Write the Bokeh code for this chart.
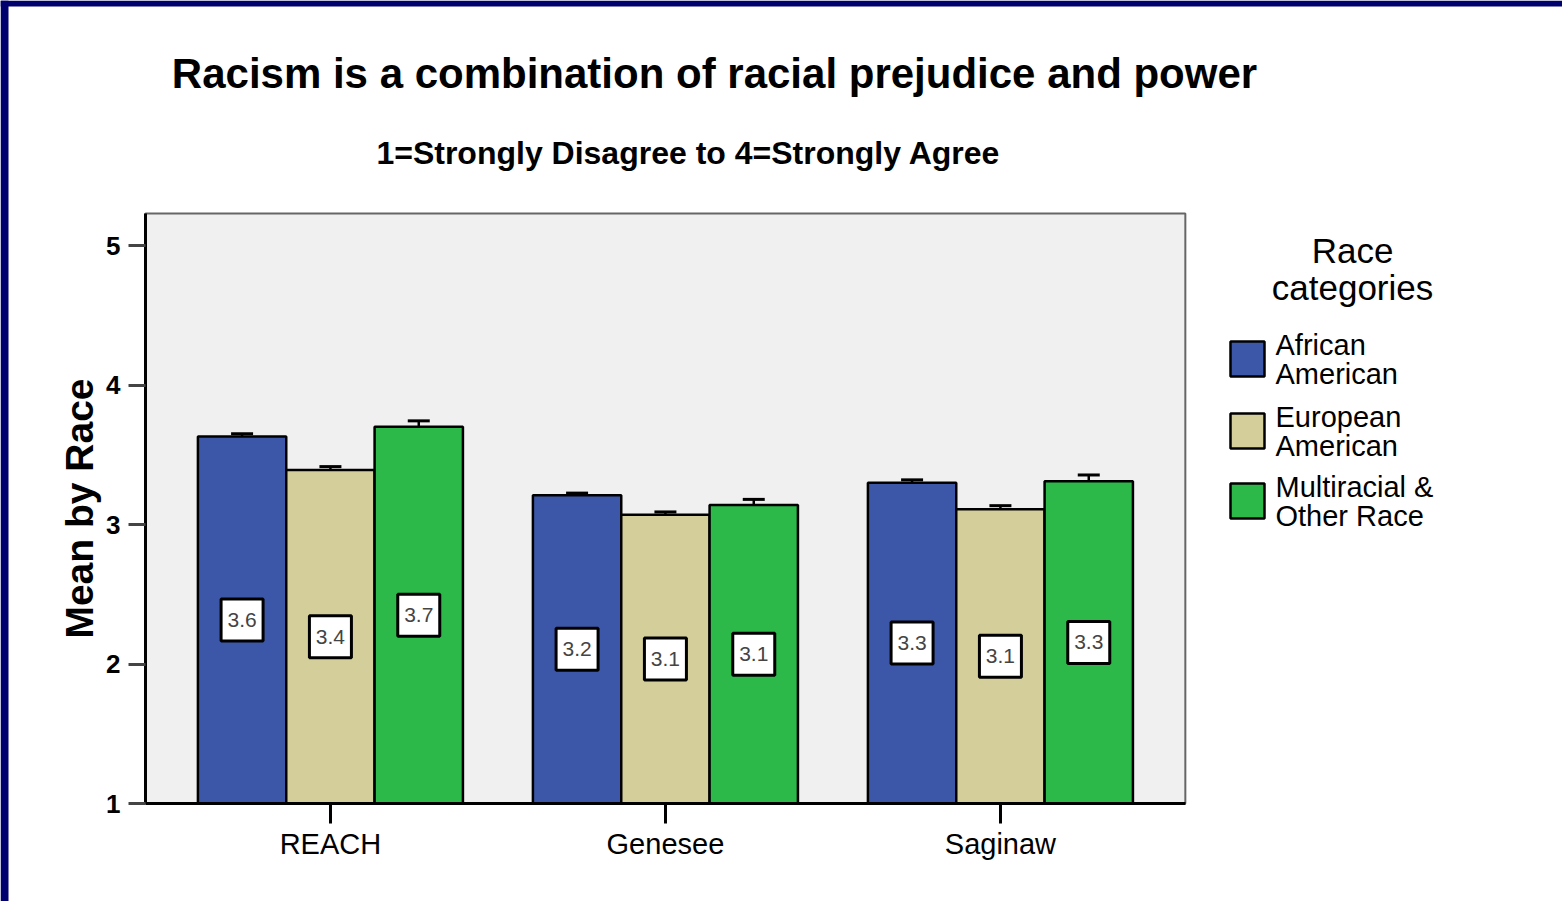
import math
from bokeh.plotting import figure
from bokeh.models import Range1d, FixedTicker, ColumnDataSource, Whisker, TeeHead, Label, BoxAnnotation
from bokeh.core.properties import value
from bokeh.embed import file_html
from bokeh.resources import INLINE

# ---- data ----
sites = ["REACH", "Genesee", "Saginaw"]
race_lines = [["African", "American"], ["European", "American"], ["Multiracial &", "Other Race"]]
means_aa = [3.63, 3.21, 3.30]
means_ea = [3.39, 3.07, 3.11]
means_mo = [3.70, 3.14, 3.31]
err_aa = [0.02, 0.015, 0.02]
err_ea = [0.025, 0.02, 0.025]
err_mo = [0.043, 0.04, 0.045]
y_ticks = [1, 2, 3, 4, 5]

colors = ["#3d57a8", "#d4cf9a", "#2db84a"]
NAVY = "#00006e"
FONT = "Liberation Sans"

# page geometry (whole canvas is the frame; axes drawn at fixed locations)
W, H = 1562, 901
AX_X, AX_Y = 145, 803      # page position of the y axis / x axis
PX_X, PX_Y = 335.0, 139.5  # pixels per data unit
x0, x_data_end = -0.552, 2.552
y_data_top = 1 + 590 / PX_Y

x_start = x0 - AX_X / PX_X
x_end = x0 + (W - AX_X) / PX_X
y_start = 1 - (H - AX_Y) / PX_Y
y_end = 1 + AX_Y / PX_Y

p = figure(width=W, height=H, title=None,
           x_range=Range1d(x_start, x_end), y_range=Range1d(y_start, y_end),
           output_backend="svg", toolbar_location=None, min_border=0,
           background_fill_color="white", border_fill_color="white",
           outline_line_color=None)
p.grid.visible = False

# plot area background
p.add_layout(BoxAnnotation(left=x0, right=x_data_end, bottom=1, top=y_data_top, level="underlay",
                           fill_color="#f0f0f0", fill_alpha=1.0,
                           line_color="#666666", line_width=2, line_alpha=1.0))

bw = 0.2637
series = [means_aa, means_ea, means_mo]
errs = [err_aa, err_ea, err_mo]
for j, (vals, ers) in enumerate(zip(series, errs)):
    xs = [i + (j - 1) * bw for i in range(len(sites))]
    src = ColumnDataSource(dict(x=xs, top=vals,
                                upper=[v + e for v, e in zip(vals, ers)],
                                lower=[v - e for v, e in zip(vals, ers)],
                                mid=[(1 + v) / 2 for v in vals],
                                lab=[f"{v:.1f}" for v in vals]))
    p.vbar(x="x", top="top", bottom=1, width=bw, source=src,
           fill_color=colors[j], line_color="black", line_width=2.5)
    w = Whisker(source=src, base="x", upper="upper", lower="lower", dimension="height",
                line_color="black", line_width=2.5,
                upper_head=TeeHead(size=22, line_width=3, line_color="black"),
                lower_head=TeeHead(size=22, line_width=3, line_color="black"))
    p.add_layout(w)
    p.rect(x="x", y="mid", width=42, height=42, width_units="screen", height_units="screen",
           source=src, fill_color="white", line_color="black", line_width=3)
    p.text(x="x", y="mid", text="lab", source=src, text_align="center", text_baseline="middle",
           text_font=value(FONT), text_font_size="21px", text_color="#444444")

# axes
p.xaxis.fixed_location = 1
p.xaxis.bounds = (x0, x_data_end)
p.xaxis.ticker = FixedTicker(ticks=list(range(len(sites))))
p.xaxis.major_label_overrides = {i: s for i, s in enumerate(sites)}
p.xaxis.major_label_text_font = FONT
p.xaxis.major_label_text_font_size = "29px"
p.xaxis.major_label_text_color = "black"
p.xaxis.major_label_standoff = 4
p.xaxis.major_tick_out = 20
p.xaxis.major_tick_in = 0
p.xaxis.major_tick_line_width = 3
p.xaxis.major_tick_line_color = "black"
p.xaxis.minor_tick_line_color = None
p.xaxis.axis_line_width = 3
p.xaxis.axis_line_color = "black"

p.yaxis.fixed_location = x0
p.yaxis.bounds = (1, y_data_top)
p.yaxis.ticker = FixedTicker(ticks=y_ticks)
p.yaxis.major_label_text_font = FONT
p.yaxis.major_label_text_font_style = "bold"
p.yaxis.major_label_text_font_size = "26px"
p.yaxis.major_label_text_color = "black"
p.yaxis.major_label_standoff = 8
p.yaxis.major_tick_out = 17
p.yaxis.major_tick_in = 0
p.yaxis.major_tick_line_width = 3
p.yaxis.major_tick_line_color = "#444444"
p.yaxis.minor_tick_line_color = None
p.yaxis.axis_line_width = 3
p.yaxis.axis_line_color = "black"


def lab(text, X, Ybase, size, bold=False, align="left", angle=0.0, baseline="alphabetic"):
    yy = Ybase - 0.35 * size if baseline == "alphabetic" else Ybase
    p.add_layout(Label(x=X, y=H - yy, x_units="screen", y_units="screen", text=text,
                       angle=angle, text_font=FONT, text_font_size=f"{size}px",
                       text_font_style="bold" if bold else "normal",
                       text_align=align, text_baseline=baseline, text_color="black"))


# y axis title
lab("Mean by Race", 79, 508, 39, bold=True, align="center", angle=math.pi / 2, baseline="middle")

# titles
lab("Racism is a combination of racial prejudice and power", 714, 88, 42, bold=True, align="center")
lab("1=Strongly Disagree to 4=Strongly Agree", 688, 164, 32, bold=True, align="center")

# legend
lab("Race", 1352, 262, 35, align="center")
lab("categories", 1352, 299, 35, align="center")
sw_tops = [341, 413, 483]
for j, (lines, top) in enumerate(zip(race_lines, sw_tops)):
    p.add_layout(BoxAnnotation(left=1230, right=1264, top=H - top, bottom=H - (top + 35),
                               left_units="screen", right_units="screen",
                               top_units="screen", bottom_units="screen",
                               fill_color=colors[j], fill_alpha=1.0,
                               line_color="black", line_width=2.5, line_alpha=1.0))
    lab(lines[0], 1275, top + 14, 29)
    lab(lines[1], 1275, top + 43, 29)

# navy slide border (left and top)
for l, r, b, t in [(0, 8, 0, H), (0, W, H - 6, H)]:
    p.add_layout(BoxAnnotation(left=l, right=r, bottom=b, top=t, level="overlay",
                               left_units="screen", right_units="screen",
                               top_units="screen", bottom_units="screen",
                               fill_color=NAVY, fill_alpha=1.0, line_color=None))

html = file_html(p, INLINE)
open("out.html", "w").write(html)
